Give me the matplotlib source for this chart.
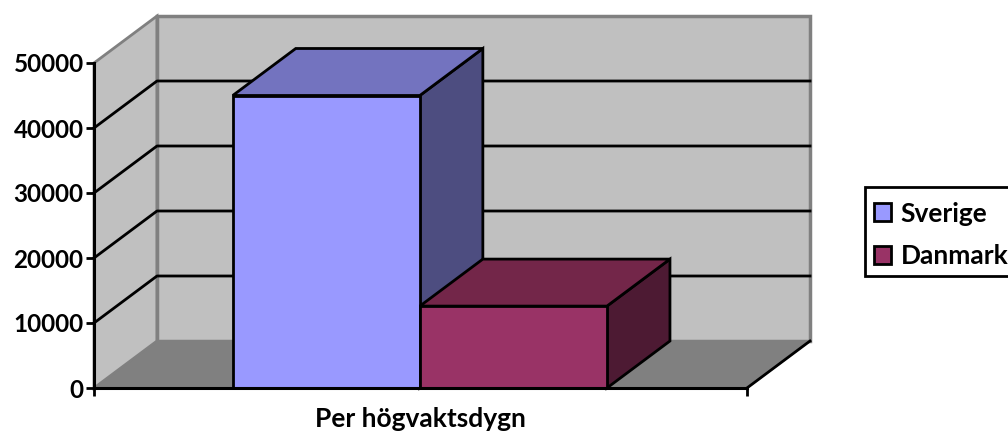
import matplotlib
matplotlib.use('Agg')
import matplotlib.pyplot as plt
from matplotlib.patches import Polygon, Patch, Rectangle

categories = ['Per högvaktsdygn']
series = ['Sverige', 'Danmark']
values = [45000, 12600]
yticks = [0, 10000, 20000, 30000, 40000, 50000]
colors = ['#9999FF', '#993366']
top_colors = ['#7373BF', '#732649']
side_colors = ['#4D4D80', '#4D1A33']

plt.rcParams['font.family'] = ['Lato', 'DejaVu Sans']
plt.rcParams['font.weight'] = 'bold'

W, H = 1008, 434
fig = plt.figure(figsize=(W / 100, H / 100), dpi=100)
ax = fig.add_axes([94 / W, (H - 388) / H, 653 / W, 325 / H])
ymax = yticks[-1]
ax.set_xlim(0, 1)
ax.set_ylim(0, ymax)

# depth of the fake 3d box, in data units
dx = 63 / 653
dy = 47 / 325 * ymax


def poly(pts, fc, ec='black', lw=2.0, z=2):
    ax.add_patch(Polygon(pts, closed=True, fc=fc, ec=ec, lw=lw, zorder=z, clip_on=False, joinstyle='miter'))


# walls and floor
poly([(0, 0), (dx, dy), (1 + dx, dy), (1, 0)], '#808080', ec='#6e6e6e', lw=1.2, z=1)
poly([(0, 0), (0, ymax), (dx, ymax + dy), (dx, dy)], '#C0C0C0', ec='#808080', lw=2.0, z=1)
poly([(dx, dy), (dx, ymax + dy), (1 + dx, ymax + dy), (1 + dx, dy)], '#C0C0C0', ec='#808080', lw=2.5, z=1)

# gridlines on the walls
for t in yticks[1:-1]:
    ax.plot([0, dx, 1 + dx], [t, t + dy, t + dy], color='black', lw=2.0, zorder=1.5, clip_on=False)

# floor front edge on the right
ax.plot([1, 1 + dx], [0, dy], color='black', lw=2.0, zorder=1.6, clip_on=False)

# bars, gap width about 150%
bar_w = 1 / (len(series) + 1.49)
x0 = 0.745 * bar_w - 0.001
for i, v in enumerate(values):
    l = x0 + i * bar_w
    r = l + bar_w
    poly([(r, 0), (r, v), (r + dx, v + dy), (r + dx, dy)], side_colors[i], z=3 + i)
    poly([(l, v), (l + dx, v + dy), (r + dx, v + dy), (r, v)], top_colors[i], z=3 + i)
    poly([(l, 0), (l, v), (r, v), (r, 0)], colors[i], z=3 + i)

ax.set_facecolor('none')
for s in ['top', 'right']:
    ax.spines[s].set_visible(False)
for s in ['left', 'bottom']:
    ax.spines[s].set_linewidth(2.2)
    ax.spines[s].set_zorder(6)

ax.set_yticks(yticks)
ax.set_yticklabels([str(t) for t in yticks], fontsize=17.5, fontweight='bold')
ax.tick_params(axis='y', length=5.5, width=2, pad=2)
ax.set_xticks([0, 1])
ax.set_xticklabels(['', ''])
ax.tick_params(axis='x', length=5.5, width=2)
ax.text(0.5, -0.058, categories[0], transform=ax.transAxes, ha='center', va='top', fontsize=19, fontweight='bold')

# legend frame runs off the right edge of the picture
fig.add_artist(Rectangle((865 / W, (H - 276) / H), 160 / W, 89 / H, transform=fig.transFigure,
                         fc='white', ec='black', lw=2))
handles = [Patch(fc=c, ec='black', lw=2, label=s) for c, s in zip(colors, series)]
leg = fig.legend(handles=handles, loc='upper left', bbox_to_anchor=(874 / W, (H - 201.5) / H),
                 frameon=False, borderpad=0, labelspacing=0.71, handlelength=0.65, handleheight=0.65,
                 handletextpad=0.35, borderaxespad=0, prop={'weight': 'bold', 'size': 19})

fig.savefig('out.png', dpi=100)
